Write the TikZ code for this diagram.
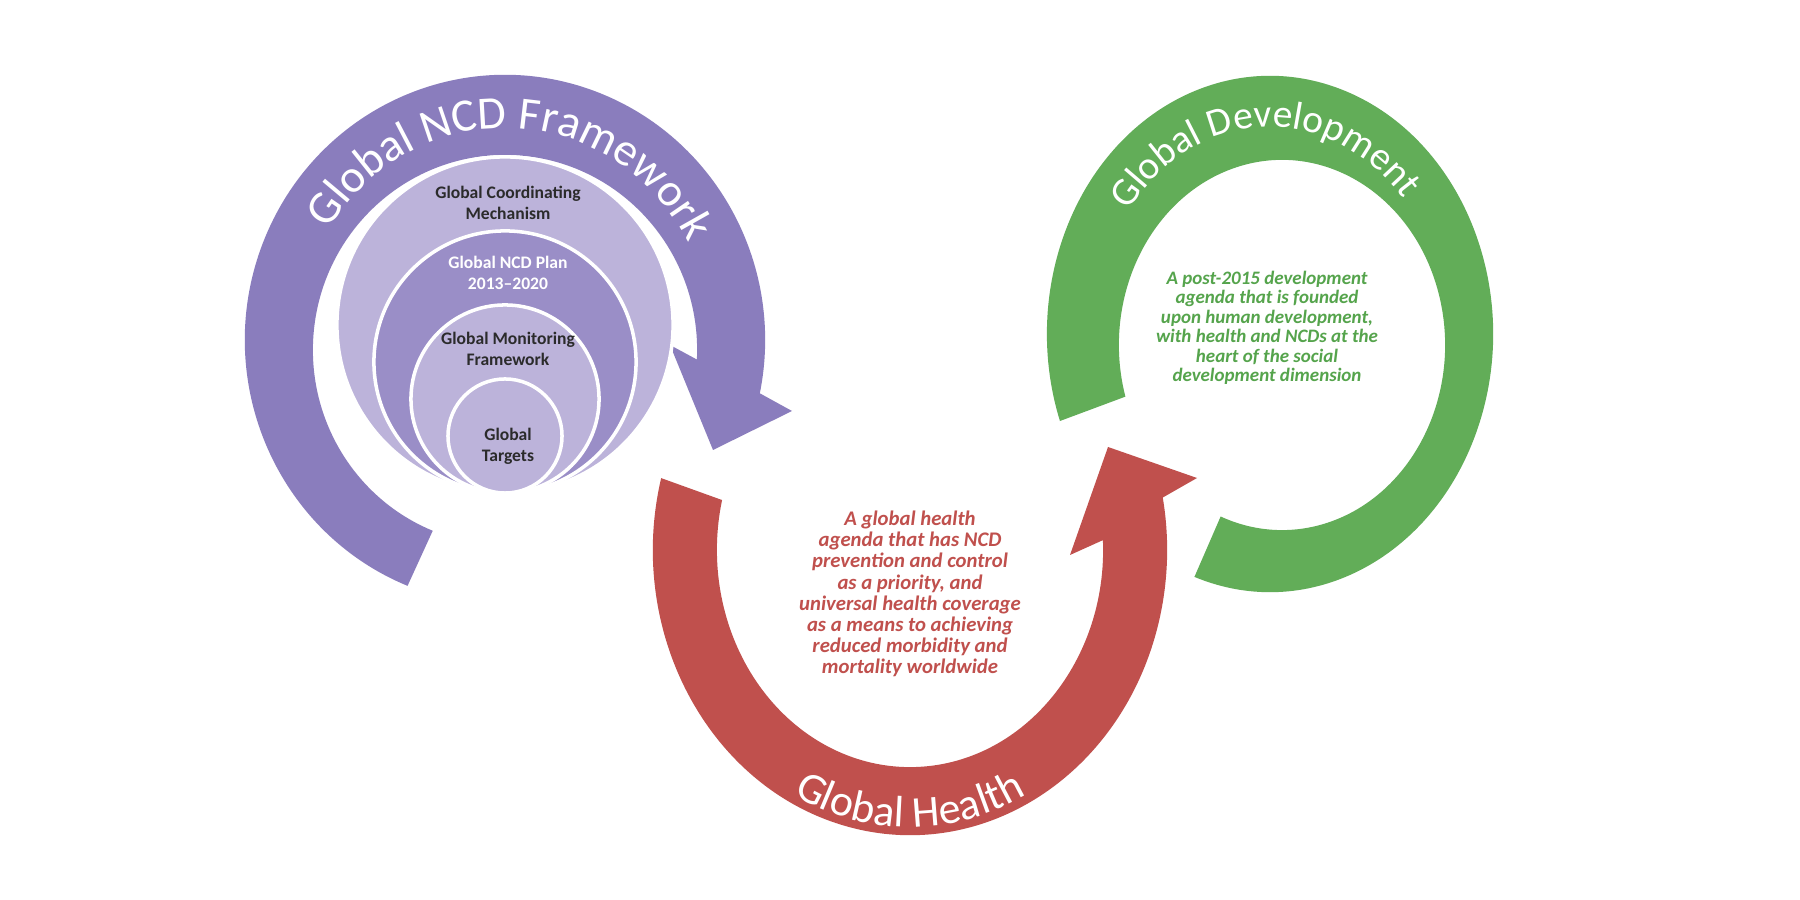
\documentclass[tikz,border=0pt]{standalone}
\usepackage{fontspec}
\setmainfont{Carlito}
\usetikzlibrary{decorations.text}
\definecolor{ncdpurple}{HTML}{8A7DBD}
\definecolor{circlight}{HTML}{BCB3DA}
\definecolor{circmid}{HTML}{9A8EC7}
\definecolor{healthred}{HTML}{C0504D}
\definecolor{devgreen}{HTML}{62AD58}
\definecolor{devtext}{HTML}{55A44C}
\definecolor{innertext}{HTML}{2B2B2B}
\tikzset{
  nestcircle/.style={circle, draw=white, line width=1pt, inner sep=0pt},
  circtext/.style={align=center, font=\bfseries\fontsize{5}{6}\selectfont, text=innertext},
  bodytext/.style={align=center, font=\bfseries\itshape\fontsize{5.9}{6}\selectfont}
}
\begin{document}
\begin{tikzpicture}[x=0.01cm,y=0.01cm]
\fill[white] (0,0) rectangle (1800,900);
\path[use as bounding box] (0,0) rectangle (1800,900);

% ---------- Global NCD Framework (purple) ----------
\coordinate (pc) at (505,560);
\coordinate (pci) at (505,550);
\coordinate (pOB) at (792,489);
\coordinate (pTip) at (713,450);
\coordinate (pIB) at (670,555);
\fill[ncdpurple] ([shift={(pc)}]248:2.60cm and 2.65cm)
  arc[start angle=248, end angle=-11.6, x radius=2.60cm, y radius=2.65cm]
  -- (pOB) -- (pTip) -- (pIB)
  -- ([shift={(pci)}]-2.8:1.92cm and 1.95cm)
  arc[start angle=-2.8, end angle=247.9, x radius=1.92cm, y radius=1.95cm] -- cycle;
\path[decorate, decoration={text along path, text align=center, text color=white,
  text={|\fontsize{13.2}{13.2}\selectfont|Global NCD Framework}}]
  ([shift={(pc)}]177:2.06cm and 2.12cm)
  arc[start angle=177, end angle=-1, x radius=2.06cm, y radius=2.12cm];

\node[nestcircle, fill=circlight, minimum size=3.36cm] (c1) at (505,575) {};
\node[nestcircle, fill=circmid, minimum size=2.62cm] (c2) at (505,538) {};
\node[nestcircle, fill=circlight, minimum size=1.88cm] (c3) at (505,501) {};
\node[nestcircle, fill=circlight, minimum size=1.14cm] (c4) at (505,464) {};
\node[circtext] (t1) at (508,697) {Global Coordinating\\Mechanism};
\node[circtext, text=white] (t2) at (508,627) {Global NCD Plan\\2013--2020};
\node[circtext] (t3) at (508,551) {Global Monitoring\\Framework};
\node[circtext] (t4) at (508,454) {Global\\Targets};

% ---------- Global Development (green) ----------
\coordinate (gc) at (1270,566);
\coordinate (gci) at (1282,555);
\fill[devgreen] ([shift={(gc)}]250.2:2.23cm and 2.58cm)
  arc[start angle=250.2, end angle=559.7, x radius=2.23cm, y radius=2.58cm]
  -- ([shift={(gci)}]556.2:1.63cm and 1.85cm)
  arc[start angle=556.2, end angle=247.9, x radius=1.63cm, y radius=1.85cm] -- cycle;
\path[decorate, decoration={text along path, text align=center, text color=white,
  text={|\fontsize{11.2}{11.2}\selectfont|Global Development}}]
  ([shift={(gc)}]182:1.76cm and 2.07cm)
  arc[start angle=182, end angle=2, x radius=1.76cm, y radius=2.07cm];
\node[bodytext, text=devtext, font=\bfseries\itshape\fontsize{5.4}{5.55}\selectfont] (gtext) at (1267,572)
  {A post-2015 development\\agenda that is founded\\upon human development,\\with health and NCDs at the\\heart of the social\\development dimension};

% ---------- Global Health (red) ----------
\coordinate (rc) at (910,350);
\coordinate (rOB) at (1197,422);
\coordinate (rTip) at (1108,453);
\coordinate (rIB) at (1070,345);
\fill[healthred] ([shift={(rc)}]165.4:2.57cm and 2.85cm)
  arc[start angle=165.4, end angle=370.6, x radius=2.57cm, y radius=2.85cm]
  -- (rOB) -- (rTip) -- (rIB)
  -- ([shift={(rc)}]362.6:1.93cm and 2.17cm)
  arc[start angle=362.6, end angle=166.7, x radius=1.93cm, y radius=2.17cm] -- cycle;
\path[decorate, decoration={text along path, text align=center, text color=white, raise=-0.02cm,
  text={|\fontsize{12.5}{12.5}\selectfont|Global Health}}]
  ([shift={(rc)}]200:2.47cm and 2.75cm)
  arc[start angle=200, end angle=340, x radius=2.47cm, y radius=2.75cm];
\node[bodytext, text=healthred] (htext) at (910,306)
  {A global health\\agenda that has NCD\\prevention and control\\as a priority, and\\universal health coverage\\as a means to achieving\\reduced morbidity and\\mortality worldwide};
\end{tikzpicture}
\end{document}
